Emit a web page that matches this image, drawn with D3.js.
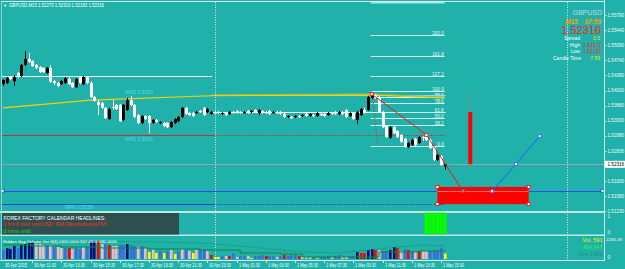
<!DOCTYPE html>
<html>
<head>
<meta charset="utf-8">
<script src="https://cdn.jsdelivr.net/npm/d3@7"></script>
<style>
body{margin:0;background:#20b2aa;overflow:hidden;}
svg{display:block;font-family:"Liberation Sans",Arial,sans-serif;}
</style>
</head>
<body>
<div id="chart"></div>
<script>
const w = 625;
const h = 269;
const teal = '#20b2aa';

// GBPUSD M15 candles, 30 Apr 09:30 .. 1 May 15:45
const open = [1.5418,1.5421,1.5435,1.5425,1.5444,1.5437,1.5463,1.5477,1.5472,1.5463,
1.5458,1.5456,1.5444,1.5456,1.5425,1.5421,1.5418,1.5421,1.5430,1.5421,
1.5411,1.5435,1.5418,1.5435,1.5421,1.5388,1.5377,1.5374,1.5363,1.5337,
1.5365,1.5370,1.5370,1.5335,1.5358,1.5381,1.5370,1.5346,1.5328,1.5344,
1.5344,1.5328,1.5335,1.5328,1.5328,1.5328,1.5318,1.5328,1.5332,1.5342,
1.5363,1.5351,1.5351,1.5351,1.5356,1.5363,1.5353,1.5349,1.5353,1.5353,
1.5349,1.5351,1.5349,1.5353,1.5356,1.5353,1.5351,1.5356,1.5353,1.5358,
1.5351,1.5356,1.5353,1.5356,1.5351,1.5353,1.5353,1.5349,1.5342,1.5342,
1.5342,1.5344,1.5344,1.5349,1.5344,1.5346,1.5344,1.5349,1.5349,1.5346,
1.5351,1.5353,1.5349,1.5353,1.5358,1.5344,1.5351,1.5335,1.5346,1.5358,
1.5358,1.5386,1.5393,1.5388,1.5353,1.5321,1.5293,1.5318,1.5309,1.5300,
1.5291,1.5272,1.5277,1.5291,1.5281,1.5295,1.5297,1.5288,1.5272,1.5242,
1.5251,1.52270];
const high = [1.5430,1.5435,1.5437,1.5439,1.5446,1.5465,1.5495,1.5491,1.5474,1.5465,
1.5460,1.5458,1.5458,1.5463,1.5428,1.5423,1.5428,1.5435,1.5435,1.5423,
1.5432,1.5437,1.5437,1.5437,1.5425,1.5391,1.5381,1.5377,1.5365,1.5363,
1.5381,1.5372,1.5372,1.5372,1.5386,1.5391,1.5372,1.5349,1.5346,1.5346,
1.5346,1.5337,1.5337,1.5332,1.5330,1.5330,1.5332,1.5339,1.5344,1.5365,
1.5365,1.5353,1.5353,1.5356,1.5358,1.5365,1.5363,1.5356,1.5356,1.5356,
1.5353,1.5353,1.5356,1.5356,1.5358,1.5356,1.5356,1.5358,1.5358,1.5360,
1.5360,1.5358,1.5356,1.5358,1.5356,1.5356,1.5356,1.5351,1.5346,1.5344,
1.5346,1.5346,1.5349,1.5351,1.5351,1.5349,1.5353,1.5351,1.5351,1.5353,
1.5353,1.5356,1.5356,1.5356,1.5360,1.5353,1.5353,1.5356,1.5363,1.5363,
1.5391,1.53972,1.5395,1.5391,1.5356,1.5323,1.5321,1.5321,1.5311,1.5302,
1.5293,1.5284,1.5291,1.5293,1.5297,1.5297,1.5300,1.5291,1.5274,1.5256,
1.5253,1.52319];
const low = [1.5414,1.5418,1.5428,1.5414,1.5432,1.5435,1.5460,1.5467,1.5458,1.5453,
1.5444,1.5444,1.5442,1.5421,1.5416,1.5411,1.5416,1.5418,1.5416,1.5409,
1.5409,1.5418,1.5416,1.5418,1.5386,1.5377,1.5346,1.5360,1.5337,1.5335,
1.5358,1.5358,1.5330,1.5332,1.5356,1.5367,1.5339,1.5325,1.5325,1.5335,
1.5304,1.5325,1.5328,1.5325,1.5318,1.5316,1.5316,1.5325,1.5330,1.5339,
1.5346,1.5344,1.5342,1.5349,1.5351,1.5344,1.5351,1.5346,1.5349,1.5349,
1.5346,1.5344,1.5346,1.5349,1.5349,1.5349,1.5349,1.5349,1.5351,1.5351,
1.5346,1.5349,1.5349,1.5346,1.5349,1.5349,1.5346,1.5339,1.5339,1.5337,
1.5339,1.5339,1.5342,1.5342,1.5342,1.5342,1.5342,1.5344,1.5342,1.5344,
1.5346,1.5346,1.5346,1.5346,1.5339,1.5342,1.5335,1.5325,1.5344,1.5349,
1.5356,1.5384,1.5384,1.5351,1.5316,1.5293,1.5291,1.5302,1.5293,1.5281,
1.5270,1.5270,1.5274,1.5274,1.5279,1.5286,1.5286,1.5267,1.5239,1.5239,
1.5228,1.52183];
const close = [1.5428,1.5432,1.5430,1.5435,1.5435,1.5463,1.5477,1.5470,1.5460,1.5456,
1.5446,1.5446,1.5456,1.5423,1.5421,1.5414,1.5425,1.5432,1.5418,1.5411,
1.5430,1.5421,1.5435,1.5421,1.5388,1.5379,1.5370,1.5363,1.5339,1.5360,
1.5363,1.5360,1.5332,1.5370,1.5381,1.5370,1.5342,1.5328,1.5344,1.5337,
1.5328,1.5335,1.5330,1.5330,1.5321,1.5318,1.5330,1.5337,1.5342,1.5363,
1.5349,1.5346,1.5344,1.5353,1.5353,1.5346,1.5360,1.5353,1.5351,1.5351,
1.5351,1.5346,1.5353,1.5351,1.5351,1.5351,1.5353,1.5351,1.5356,1.5353,
1.5358,1.5351,1.5351,1.5349,1.5353,1.5351,1.5349,1.5342,1.5344,1.5339,
1.5344,1.5342,1.5346,1.5344,1.5349,1.5344,1.5351,1.5346,1.5344,1.5351,
1.5349,1.5349,1.5353,1.5349,1.5342,1.5351,1.5337,1.5353,1.5360,1.5351,
1.5388,1.5395,1.5386,1.5353,1.5318,1.5295,1.5318,1.5304,1.5295,1.5284,
1.5272,1.5281,1.5288,1.5277,1.5295,1.5293,1.5288,1.5270,1.5242,1.5253,
1.5230,1.52316];

// Hidden Gap Volume
const volume = [980,1200,1100,1420,1200,1530,1640,1750,1860,1640,
1640,1530,1420,1530,1310,1310,1200,1200,1200,1090,
1200,1090,1310,1310,1860,1970,1970,1640,1640,1530,
1420,1420,1530,1530,1640,1530,1420,1310,1420,1200,
760,1090,650,870,650,870,980,550,870,1090,
980,870,650,980,1090,980,870,440,220,220,
330,330,330,650,220,330,330,330,110,330,
330,440,330,330,330,220,330,440,330,440,
440,330,220,220,220,220,110,220,220,330,
220,330,440,220,220,330,330,760,650,650,
980,1090,980,980,870,870,980,1310,1200,870,
1090,980,870,760,870,870,870,870,980,980,
1200,591];
// bar colour codes: n navy, b blue, p pink, r red, y yellow
const volType = ['b','n','n','n','b','n','n','n','n','p',
'p','p','b','p','b','p','p','b','r','p',
'b','b','p','b','n','n','r','p','b','r',
'p','p','b','b','n','b','b','p','b','p',
'y','p','y','b','y','b','p','y','b','p',
'b','p','y','p','b','b','p','r','y','y',
'b','p','r','b','p','b','b','p','y','b',
'b','b','r','b','b','p','b','r','b','b',
'b','r','p','p','p','b','p','b','b','b',
'p','b','b','p','p','b','b','n','r','r',
'n','n','r','p','b','b','n','n','r','p',
'b','r','b','p','r','p','p','b','b','b',
'b','y'];
const volColors = {n:'#0c0c78', b:'#4169e1', p:'#f4b8c4', r:'#ff0000', y:'#ffff00'};
const volMaIdx = [0,8,16,27,40,54,65,76,82,92,103,114,121];
const volMa = [1530,1420,1310,1200,1090,980,655,546,218,218,765,874,947];
const volDevIdx = [0,27,54,65,73,82,92,103,114,121];
const volDev = [2076,1967,1748,1420,1093,765,656,1093,1530,1436];

// signal sub window
const sigIdx = [116,117,118,119,120,121];
const sigVal = [1,1,1,1,1,1];

// axis labels
const priceTicks = [1.55790,1.55440,1.55090,1.54740,1.54390,1.54030,1.53680,1.53330,1.52980,1.52630,1.51930,1.51580,1.51230];
const timeIdx = [0,8,16,24,32,40,48,56,64,72,80,88,96,104,112,120];
const timeLabels = ['30 Apr 2015','30 Apr 11:30','30 Apr 13:30','30 Apr 15:30','30 Apr 17:30','30 Apr 19:30',
  '30 Apr 21:30','30 Apr 23:30','1 May 01:30','1 May 03:30','1 May 05:30','1 May 07:30','1 May 09:30',
  '1 May 11:30','1 May 13:30','1 May 15:30'];
const bid = 1.52316;

// objects on the chart
const maIdx = [0,24,57,100,121];
const maVal = [1.5363,1.5381,1.5391,1.5393,1.5386];
const pivotNames = ['WR2','WR1','MPV'];
const pivotVal = [1.5393,1.5300,1.5139];
const whiteFrom = [0,57];
const whiteTo = [57,121];
const whiteVal = [1.5437,1.5353];
const fibHigh = 1.5403, fibLow = 1.5274;
const fibLevels = [0,38.2,50,61.8,78.6,88.6,100,127.2,161.8,200];
const redIdx = [101,116,126];
const redVal = [1.5395,1.5300,1.5169];
const blueIdx = [134,140.5,147];
const blueVal = [1.5169,1.5232,1.5297];
const boxIdx = [119,144];
const boxVal = [1.5179,1.5139];
const hLineVal = 1.5170;
const projIdx = 128;
const projOHLC = [1.5353,1.5398,1.5218,1.5232];
const vLines = [58,154.5];

const x = d3.scaleLinear().domain([0,121]).range([3,444.7]);
const y = d3.scaleLinear().domain([1.51230,1.55790]).range([211,15]);
const yVol = d3.scaleLinear().domain([0,2294.28]).range([259,238]);
const ySig = d3.scaleLinear().domain([0,1]).range([234,213]);

const svg = d3.select('#chart').append('svg').attr('width',w).attr('height',h);
svg.append('rect').attr('width',w).attr('height',h).attr('fill',teal);

svg.append('defs').append('clipPath').attr('id','mainClip')
  .append('rect').attr('x',2).attr('y',1).attr('width',602).attr('height',210);
const main = svg.append('g').attr('clip-path','url(#mainClip)');

// frame
const light = '#cdeeea';
svg.append('line').attr('x1',2).attr('x2',604).attr('y1',1.5).attr('y2',1.5).attr('stroke',light).attr('stroke-width',1);
[[211,213],[234.5,236]].forEach(s => svg.append('rect').attr('x',0).attr('y',s[0]).attr('width',604).attr('height',s[1]-s[0]).attr('fill','#bfe8e4'));
svg.append('line').attr('x1',0).attr('x2',605).attr('y1',260.5).attr('y2',260.5).attr('stroke',light);
svg.append('line').attr('x1',604.5).attr('x2',604.5).attr('y1',0).attr('y2',261).attr('stroke',light);
svg.append('line').attr('x1',1.5).attr('x2',1.5).attr('y1',1).attr('y2',261).attr('stroke','#8fd4ce');

// period separators
vLines.forEach(v => svg.append('line').attr('x1',Math.round(x(v))+0.5).attr('x2',Math.round(x(v))+0.5)
  .attr('y1',2).attr('y2',260).attr('stroke','#dff6f3').attr('stroke-dasharray','1,1.5'));

// white session lines
whiteVal.forEach((v,i) => main.append('line').attr('x1',x(whiteFrom[i])-1).attr('x2',x(whiteTo[i])+1)
  .attr('y1',Math.round(y(v))+0.5).attr('y2',Math.round(y(v))+0.5).attr('stroke','#ffffff'));

// bid line
main.append('line').attr('x1',2).attr('x2',604).attr('y1',Math.round(y(bid))+0.5).attr('y2',Math.round(y(bid))+0.5)
  .attr('stroke','#a49ca8');

// fibonacci
const fibY = l => y(fibLow + (fibHigh-fibLow)*l/100);
main.append('line').attr('x1',x(101)-1).attr('x2',x(121)).attr('y1',2.5).attr('y2',2.5)
  .attr('stroke','#b4e6e2').attr('stroke-width',2);
fibLevels.forEach(l => {
  const yy = Math.round(fibY(l))+0.5;
  main.append('line').attr('x1',x(101)-1).attr('x2',x(121)).attr('y1',yy).attr('y2',yy).attr('stroke','#d6f2ef');
  main.append('text').attr('x',x(121)-1).attr('y',yy-1).attr('text-anchor','end').attr('font-size',4.6)
    .attr('fill','#e6f7f5').text(l.toFixed(1));
});
main.append('line').attr('x1',x(101)).attr('y1',fibY(100)).attr('x2',x(102.7)).attr('y2',fibY(0))
  .attr('stroke','#e03030').attr('stroke-dasharray','1,1.5');

// pivot lines
const pivCol = ['#8fd8f6','#c83030','#1f3cf0'];
pivotVal.forEach((v,i) => {
  const yy = Math.round(y(v))+0.5;
  if (i > 0) main.append('line').attr('x1',2).attr('x2',x(58)).attr('y1',yy).attr('y2',yy).attr('stroke',pivCol[i]);
  main.append('line').attr('x1',x(58)).attr('x2',x(121)+1).attr('y1',yy).attr('y2',yy).attr('stroke',pivCol[i])
    .attr('stroke-dasharray', i == 0 ? null : '1.5,1.5');
});

// moving averages
const lineFn = d3.line().x(d => x(d[0])).y(d => y(d[1]));
main.append('path').datum(maIdx.map((d,i) => [d, maVal[i]+0.0002]).slice(2)).attr('d',lineFn)
  .attr('fill','none').attr('stroke','#a7b545').attr('stroke-width',1.3);
main.append('path').datum(maIdx.map((d,i) => [d, maVal[i]])).attr('d',lineFn)
  .attr('fill','none').attr('stroke','#f2d400').attr('stroke-width',1.1);

// candles
const idx = d3.range(open.length);
const cg = main.append('g');
cg.selectAll('.wick').data(idx).enter().append('line')
  .attr('x1',i => Math.round(x(i))+0.5).attr('x2',i => Math.round(x(i))+0.5)
  .attr('y1',i => y(high[i])).attr('y2',i => y(low[i]))
  .attr('stroke',i => close[i] >= open[i] ? '#000' : '#fff').attr('stroke-width',1);
cg.selectAll('.body').data(idx).enter().append('rect')
  .attr('x',i => Math.round(x(i))-1).attr('width',3)
  .attr('y',i => y(Math.max(open[i],close[i])))
  .attr('height',i => Math.max(1, Math.abs(y(open[i])-y(close[i]))))
  .attr('fill',i => close[i] >= open[i] ? '#000' : '#fff');

// projection candle
main.append('line').attr('x1',x(projIdx)).attr('x2',x(projIdx)).attr('y1',y(projOHLC[1])).attr('y2',y(projOHLC[2]))
  .attr('stroke','#5f9894').attr('stroke-width',1.6);
main.append('rect').attr('x',x(projIdx)-2).attr('width',4).attr('y',y(projOHLC[0]))
  .attr('height',y(projOHLC[3])-y(projOHLC[0])).attr('fill','#ff0000');

// target box
main.append('rect').attr('x',x(boxIdx[0])).attr('width',x(boxIdx[1])-x(boxIdx[0]))
  .attr('y',y(boxVal[0])).attr('height',y(boxVal[1])-y(boxVal[0])).attr('fill','#ff0000');
main.append('line').attr('x1',2).attr('x2',603).attr('y1',Math.round(y(hLineVal))+0.5).attr('y2',Math.round(y(hLineVal))+0.5)
  .attr('stroke','#2a4cf0');
main.append('line').attr('x1',x(boxIdx[0])).attr('x2',x(boxIdx[1])).attr('y1',Math.round(y(hLineVal))+0.5).attr('y2',Math.round(y(hLineVal))+0.5)
  .attr('stroke','#ff6a6a');

// zigzags
main.append('path').datum(redIdx.map((d,i) => [d, redVal[i]])).attr('d',lineFn).attr('fill','none').attr('stroke','#ff1010');
main.append('path').datum(blueIdx.map((d,i) => [d, blueVal[i]])).attr('d',lineFn).attr('fill','none').attr('stroke','#2a5cf0');

const sq = (cx, cy, col, fill) => main.append('rect').attr('x',cx-1.5).attr('y',cy-1.5).attr('width',3).attr('height',3)
  .attr('fill',fill).attr('stroke',col).attr('stroke-width',0.8);
redIdx.forEach((d,i) => sq(x(d), y(redVal[i]), '#ff1010', i == 2 ? '#3fb8a8' : '#ffffff'));
blueIdx.forEach((d,i) => sq(x(d), y(blueVal[i]), '#2a5cf0', '#ffffff'));
[[boxIdx[0],boxVal[0]],[boxIdx[1],boxVal[0]],[boxIdx[0],boxVal[1]],[boxIdx[1],boxVal[1]]]
  .forEach(c => sq(x(c[0]), y(c[1]), '#ff0000', '#ffffff'));
sq(2.5, y(hLineVal), '#2a4cf0', '#ffffff');
sq(602.5, y(hLineVal), '#2a4cf0', '#ffffff');

// pivot labels
const pivLab = ['#55d6ec','#55d6ec','#3ce4f4'];
const pivPos = [[125,93.5],[125,140.5],[65,209]];
pivotNames.forEach((n,i) => svg.append('text').attr('x',pivPos[i][0]).attr('y',pivPos[i][1])
  .attr('font-size',5).attr('fill',pivLab[i]).text(n + '  ' + pivotVal[i].toFixed(4)));

// price axis
priceTicks.forEach(p => {
  svg.append('line').attr('x1',604).attr('x2',606.5).attr('y1',Math.round(y(p))+0.5).attr('y2',Math.round(y(p))+0.5).attr('stroke',light);
  svg.append('text').attr('x',607.5).attr('y',y(p)+1.7).attr('font-size',4.6).attr('fill','#f4fbfa').text(p.toFixed(5));
});
svg.append('rect').attr('x',605).attr('y',y(bid)-3.5).attr('width',20).attr('height',7).attr('fill','#ffffff');
svg.append('text').attr('x',607.5).attr('y',y(bid)+1.7).attr('font-size',4.6).attr('fill','#000').text(bid.toFixed(5));

// header
svg.append('text').attr('x',3).attr('y',6.5).attr('font-size',4).attr('fill','#fff').text('\u25BC');
svg.append('text').attr('x',9).attr('y',7).attr('font-size',5).attr('fill','#fff')
  .attr('textLength',95).attr('lengthAdjust','spacingAndGlyphs')
  .text('GBPUSD,M15  1.52270 1.52319 1.52183 1.52316');

// info panel
const info = [
  {t:'GBPUSD', x:602, y:15, s:7, c:'#c6d9dc', a:'end'},
  {t:'M15', x:565, y:23.5, s:6.5, c:'#ff9c00', a:'start', it:true},
  {t:'07:59', x:601, y:23.5, s:6.5, c:'#ff9c00', a:'end', it:true},
  {t:'1.52316', x:601, y:33.5, s:11, c:'#ff1a1a', a:'end'},
  {t:'Spread', x:564, y:40, s:5, c:'#fff', a:'start'},
  {t:'0.5', x:600, y:40, s:5, c:'#f2e600', a:'end'},
  {t:'High', x:580, y:46.5, s:5, c:'#fff', a:'end'},
  {t:'1.53972', x:601, y:46.5, s:5, c:'#ff2020', a:'end'},
  {t:'Low', x:580, y:53, s:5, c:'#fff', a:'end'},
  {t:'1.52183', x:601, y:53, s:5, c:'#ff2020', a:'end'},
  {t:'Candle Time', x:553, y:59.5, s:5, c:'#fff', a:'start'},
  {t:'7:59', x:600, y:59.5, s:5, c:'#f2e600', a:'end'}
];
info.forEach(d => svg.append('text').attr('x',d.x).attr('y',d.y).attr('font-size',d.s).attr('fill',d.c)
  .attr('text-anchor',d.a).attr('font-style',d.it ? 'italic' : null).attr('font-weight',d.it ? 'bold' : null).text(d.t));

// signal sub window
svg.selectAll('.sig').data(sigIdx).enter().append('rect')
  .attr('x',d => x(d)-1.8).attr('width',3.65).attr('y',(d,i) => ySig(sigVal[i]))
  .attr('height',(d,i) => ySig(0)-ySig(sigVal[i])).attr('fill','#00ff00').attr('stroke','#2fd02f').attr('stroke-width',0.5);
svg.append('text').attr('x',607.5).attr('y',217.5).attr('font-size',4.6).attr('fill','#f4fbfa').text('1');
svg.append('text').attr('x',607.5).attr('y',233.5).attr('font-size',4.6).attr('fill','#f4fbfa').text('0');

// calendar box
svg.append('rect').attr('x',2).attr('y',213).attr('width',177).attr('height',21.5).attr('fill','#2f4f4f');
const cal = [['FOREX FACTORY CALENDAR  HEADLINES:','#ffffff',102,219.5],
  ['1 hrs 8 mins until USD: ISM Manufacturing PMI','#ff2a2a',103,226],
  ['0 mins until:','#28d228',28,232.5]];
cal.forEach(c => svg.append('text').attr('x',3.5).attr('y',c[3]).attr('font-size',5).attr('fill',c[1])
  .attr('textLength',c[2]).attr('lengthAdjust','spacingAndGlyphs').text(c[0]));

// volume sub window
svg.selectAll('.vol').data(idx).enter().append('rect')
  .attr('x',i => Math.round(x(i))-1).attr('width',2.6)
  .attr('y',i => yVol(volume[i])).attr('height',i => yVol(0)-yVol(volume[i]))
  .attr('fill',i => volColors[volType[i]]);
svg.append('path').datum(volMaIdx.map((d,i) => [d, volMa[i]]))
  .attr('d',d3.line().x(d => x(d[0])).y(d => yVol(d[1])).curve(d3.curveStepAfter))
  .attr('fill','none').attr('stroke','#0c8a2c').attr('stroke-width',1);
svg.append('path').datum(volDevIdx.map((d,i) => [d, volDev[i]])).attr('d',d3.line().x(d => x(d[0])).y(d => yVol(d[1])))
  .attr('fill','none').attr('stroke','#138a3a').attr('stroke-width',0.9).attr('stroke-dasharray','1,1.2');
svg.append('text').attr('x',3).attr('y',242.5).attr('font-size',4.4).attr('fill','#fff')
  .attr('textLength',114).attr('lengthAdjust','spacingAndGlyphs')
  .text('Hidden Gap Volume Ver 6[3] 2405.0000 947.0000 591.0000');
[['Vol.  591','#f2f000',242],['MA  947','#3cf03c',249],['Dev  1436','#1f8f7a',256]].forEach(t =>
  svg.append('text').attr('x',602.5).attr('y',t[2]).attr('text-anchor','end').attr('font-size',5.6).attr('fill',t[1]).text(t[0]));
svg.append('text').attr('x',606).attr('y',241).attr('font-size',4.4).attr('fill','#f4fbfa').text('2294.28');
svg.append('text').attr('x',607.5).attr('y',258.5).attr('font-size',4.6).attr('fill','#f4fbfa').text('0');

// time axis
timeIdx.forEach((t,i) => {
  const xx = Math.round(x(t))+0.5;
  if (i > 0) svg.append('line').attr('x1',xx).attr('x2',xx).attr('y1',260).attr('y2',263).attr('stroke',light);
  svg.append('text').attr('x',xx+1.5).attr('y',266.5).attr('font-size',4.6).attr('fill','#f4fbfa')
    .attr('textLength',i > 7 ? 21 : 22).attr('lengthAdjust','spacingAndGlyphs').text(timeLabels[i]);
});
</script>
</body>
</html>
